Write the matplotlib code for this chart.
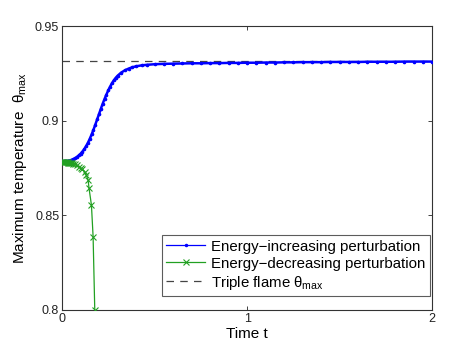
import matplotlib
matplotlib.use("Agg")
import matplotlib.pyplot as plt
from matplotlib.lines import Line2D

plt.rcParams['font.family'] = ['Liberation Sans', 'DejaVu Sans']
plt.rcParams['mathtext.fontset'] = 'custom'
plt.rcParams['mathtext.rm'] = 'Liberation Sans'
plt.rcParams['mathtext.it'] = 'Liberation Sans'
plt.rcParams['mathtext.bf'] = 'Liberation Sans:bold'

# Energy-increasing perturbation
t_inc = [0.0, 0.01, 0.02, 0.03, 0.04, 0.05, 0.06, 0.07, 0.08, 0.09, 0.10,
         0.11, 0.12, 0.13, 0.14, 0.15, 0.16, 0.17, 0.18, 0.19, 0.20,
         0.21, 0.22, 0.23, 0.24, 0.25, 0.26, 0.27, 0.28, 0.29, 0.30,
         0.32, 0.34, 0.36, 0.38, 0.40, 0.43, 0.46, 0.50, 0.55, 0.60,
         0.65, 0.70, 0.75, 0.80, 0.85, 0.90, 0.95, 1.00, 1.05, 1.10,
         1.15, 1.20, 1.25, 1.30, 1.35, 1.40, 1.45, 1.50, 1.55, 1.60,
         1.65, 1.70, 1.75, 1.80, 1.85, 1.90, 1.95, 2.00]
th_inc = [0.8785, 0.8785, 0.8786, 0.8787, 0.8789, 0.8792, 0.8796, 0.8801, 0.8808, 0.8816, 0.8825,
          0.8836, 0.8849, 0.8865, 0.8883, 0.8904, 0.8927, 0.8952, 0.8979, 0.9007, 0.9035,
          0.9063, 0.9090, 0.9115, 0.9138, 0.9160, 0.9180, 0.9198, 0.9213, 0.9226, 0.9237,
          0.9254, 0.9266, 0.9275, 0.9282, 0.9287, 0.9292, 0.9295, 0.9298, 0.9300, 0.9301,
          0.9302, 0.9303, 0.9303, 0.9304, 0.9304, 0.9305, 0.9305, 0.9306, 0.9306, 0.9307,
          0.9307, 0.9308, 0.9308, 0.9309, 0.9309, 0.9309, 0.9310, 0.9310, 0.9310, 0.9310,
          0.9311, 0.9311, 0.9311, 0.9311, 0.9312, 0.9312, 0.9312, 0.9312]

# Energy-decreasing perturbation
t_dec = [0.0, 0.005, 0.01, 0.015, 0.02, 0.025, 0.03, 0.035, 0.04, 0.045, 0.05,
         0.055, 0.06, 0.07, 0.08, 0.09, 0.10, 0.11, 0.123, 0.132, 0.141,
         0.146, 0.159, 0.168, 0.177, 0.181]
th_dec = [0.8780, 0.8780, 0.8780, 0.8780, 0.8780, 0.8779, 0.8779, 0.8778, 0.8778, 0.8777, 0.8776,
          0.8775, 0.8773, 0.8769, 0.8763, 0.8756, 0.8748, 0.8742, 0.8728, 0.8711, 0.8686,
          0.8643, 0.8554, 0.8387, 0.8000, 0.7800]

triple_theta = 0.9315

labels = ['Energy\u2212increasing perturbation',
          'Energy\u2212decreasing perturbation',
          r'Triple flame $\theta_{\mathrm{max}}$']

blue = '#0000ff'
green = '#22a022'
dash_col = '#444444'

fig = plt.figure(figsize=(4.77, 3.49), dpi=100)
ax = fig.add_axes([0.130, 0.112, 0.776, 0.8135])

ax.plot(t_inc, th_inc, '-', color=blue, lw=1.8, marker='.', markersize=3.2, zorder=3)
ax.plot(t_dec, th_dec, '-', color=green, lw=0.9, marker='x', markersize=4,
        markeredgewidth=0.8, zorder=3)
ax.axhline(triple_theta, color=dash_col, lw=0.9, ls=(0, (6, 5)), zorder=2)

ax.set_xlim(0, 2)
ax.set_ylim(0.8, 0.95)
ax.set_xticks([0, 1, 2])
ax.set_xticklabels(['0', '1', '2'])
ax.set_yticks([0.8, 0.85, 0.9, 0.95])
ax.set_yticklabels(['0.8', '0.85', '0.9', '0.95'])
ax.tick_params(direction='in', length=3, width=0.6, top=True, right=True,
               labelsize=9, colors='#222222', pad=2)
for s in ax.spines.values():
    s.set_color('#333333')
    s.set_linewidth(0.8)

ax.set_xlabel('Time t', fontsize=11, labelpad=2)
ax.set_ylabel(r'Maximum temperature  $\theta_{\mathrm{max}}$', fontsize=11, labelpad=4)

handles = [
    Line2D([], [], color=blue, lw=0.9, marker='.', markersize=3),
    Line2D([], [], color=green, lw=0.9, marker='x', markersize=4, markeredgewidth=0.8),
    Line2D([], [], color=dash_col, lw=0.9, ls=(0, (6, 5))),
]
leg = ax.legend(handles, labels, loc='lower right', bbox_to_anchor=(0.9946, 0.049),
                borderaxespad=0, fontsize=10.8, frameon=True, fancybox=False,
                handlelength=2.6, handletextpad=0.4, labelspacing=0.2, borderpad=0.3)
leg.get_frame().set_edgecolor('#333333')
leg.get_frame().set_linewidth(0.8)

fig.savefig('out.png', dpi=100)
